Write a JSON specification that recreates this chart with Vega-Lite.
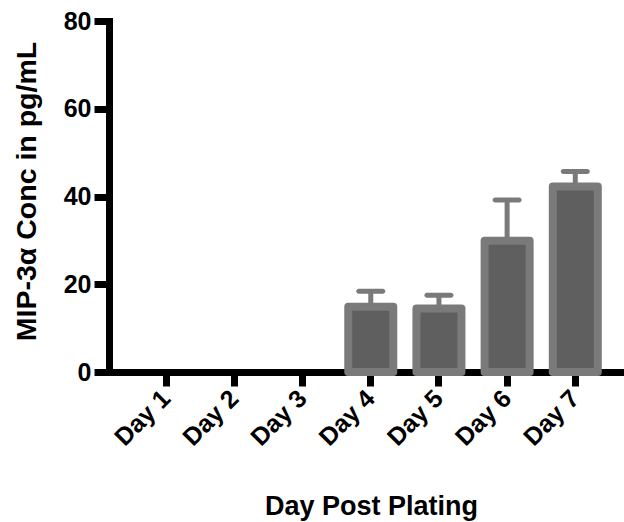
{
  "$schema": "https://vega.github.io/schema/vega-lite/v6.json",
  "width": 515,
  "height": 351,
  "autosize": {"type": "none"},
  "padding": {"left": 109, "top": 21, "right": 0, "bottom": 150},
  "background": "white",
  "config": {
    "view": {"stroke": null},
    "font": "Liberation Sans",
    "axis": {
      "domainColor": "black",
      "domainWidth": 7,
      "domainCap": "square",
      "tickColor": "black",
      "tickWidth": 7,
      "tickSize": 15,
      "grid": false,
      "labelFont": "Liberation Sans",
      "labelFontWeight": "bold",
      "labelFontSize": 25,
      "labelColor": "black",
      "titleFont": "Liberation Sans",
      "titleFontWeight": "bold",
      "titleFontSize": 27,
      "titleColor": "black",
      "zindex": 1
    }
  },
  "data": {
    "values": [
      {"day": "Day 1", "conc": null, "upper": null},
      {"day": "Day 2", "conc": null, "upper": null},
      {"day": "Day 3", "conc": null, "upper": null},
      {"day": "Day 4", "conc": 14.9, "upper": 18.4},
      {"day": "Day 5", "conc": 14.5, "upper": 17.5},
      {"day": "Day 6", "conc": 29.9, "upper": 39.2},
      {"day": "Day 7", "conc": 42.3, "upper": 45.7}
    ]
  },
  "encoding": {
    "x": {
      "field": "day",
      "type": "nominal",
      "sort": null,
      "scale": {
        "domain": ["Day 1", "Day 2", "Day 3", "Day 4", "Day 5", "Day 6", "Day 7"],
        "paddingInner": 0.34,
        "paddingOuter": 0.447,
        "align": 0.57
      },
      "axis": {
        "title": "Day Post Plating",
        "labelAngle": -45,
        "labelAlign": "right",
        "labelBaseline": "middle",
        "labelPadding": 8,
        "tickSize": 14,
        "titleX": 262,
        "titleY": 142,
        "titleAlign": "center",
        "titleBaseline": "alphabetic"
      }
    }
  },
  "layer": [
    {
      "mark": {"type": "rule", "color": "#7a7a7a", "strokeWidth": 5},
      "encoding": {
        "y": {"field": "conc", "type": "quantitative"},
        "y2": {"field": "upper"}
      }
    },
    {
      "mark": {
        "type": "bar",
        "color": "#5f5f5f",
        "stroke": "#7a7a7a",
        "strokeWidth": 8,
        "strokeJoin": "round"
      },
      "encoding": {
        "y": {
          "field": "conc",
          "type": "quantitative",
          "scale": {"domain": [0, 80], "nice": false},
          "axis": {
            "title": "MIP-3α Conc in pg/mL",
            "titleFontSize": 28.5,
            "values": [0, 20, 40, 60, 80],
            "labelPadding": 3,
            "labelBaseline": "middle",
            "titleAngle": -90,
            "titleX": -74,
            "titleY": 170,
            "titleAlign": "center",
            "titleBaseline": "alphabetic"
          }
        }
      }
    },
    {
      "mark": {
        "type": "tick",
        "color": "#7a7a7a",
        "thickness": 5,
        "size": 29,
        "cornerRadius": 2.5,
        "opacity": 1
      },
      "encoding": {
        "y": {"field": "upper", "type": "quantitative"}
      }
    }
  ]
}
